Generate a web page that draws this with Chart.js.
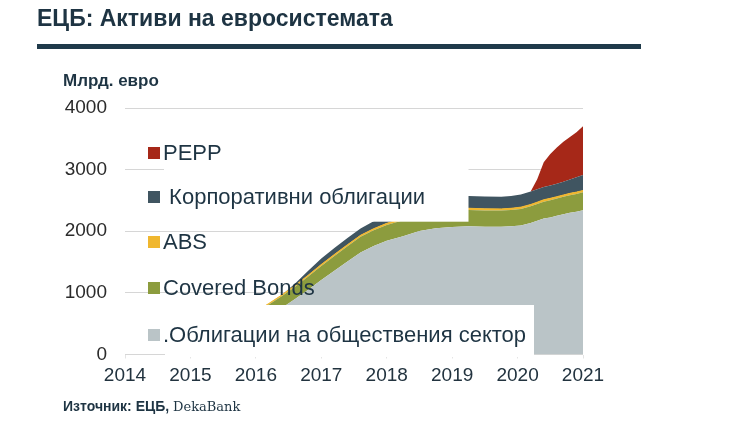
<!DOCTYPE html>
<html>
<head>
<meta charset="utf-8">
<script src="https://cdn.jsdelivr.net/npm/chart.js@4/dist/chart.umd.min.js"></script>
<style>
  body { margin: 0; background: #fff; }
  #wrap { position: relative; width: 740px; height: 436px; overflow: hidden; font-family: "Liberation Sans", Arial, sans-serif; }
  #chart { position: absolute; left: 0; top: 0; }
  .txt { position: absolute; color: #1e3443; white-space: nowrap; }
  #title { left: 37px; top: 5px; font-size: 23px; font-weight: bold; line-height: 27px; }
  #rule { position: absolute; left: 37px; top: 44px; width: 604px; height: 5px; background: #1f3a4a; }
  #unit { left: 63px; top: 70px; font-size: 17px; font-weight: bold; line-height: 21px; }
  #source { left: 63px; top: 397px; font-size: 14px; font-weight: bold; line-height: 18px; }
  #source span { font-family: "DejaVu Serif", serif; font-weight: normal; font-size: 13px; }
</style>
</head>
<body>
<div id="wrap">
  <canvas id="chart" width="740" height="436"></canvas>
  <div class="txt" id="title">ЕЦБ: Активи на евросистемата</div>
  <div id="rule"></div>
  <div class="txt" id="unit">Млрд. евро</div>
  <div class="txt" id="source">Източник: ЕЦБ, <span>DekaBank</span></div>
</div>
<script>
// decimal years on the x axis
var years = [2014.0, 2014.75, 2015.0, 2015.2, 2015.5, 2015.75, 2016.0, 2016.2, 2016.4, 2016.6,
             2016.8, 2017.0, 2017.2, 2017.4, 2017.6, 2017.8, 2018.0, 2018.25, 2018.5, 2018.75,
             2019.0, 2019.25, 2019.5, 2019.75, 2019.9, 2020.05, 2020.2, 2020.3, 2020.4, 2020.5,
             2020.6, 2020.7, 2020.8, 2020.9, 2021.0];

// holdings, bn EUR (stacked from bottom)
var publicSector = [0, 0, 0, 40, 220, 380, 520, 635, 760, 900,
                    1050, 1210, 1360, 1510, 1656, 1760, 1845, 1920, 2005, 2050,
                    2070, 2083, 2075, 2072, 2080, 2095, 2135, 2170, 2205, 2225,
                    2250, 2275, 2300, 2318, 2342];
var coveredBonds = [0, 0, 30, 70, 110, 140, 160, 175, 188, 200,
                    215, 228, 240, 248, 253, 256, 258, 259, 260, 260,
                    261, 262, 262, 264, 265, 268, 270, 272, 275, 278,
                    280, 283, 285, 287, 289];
var absSeries = [0, 0, 2, 5, 9, 14, 18, 19, 20, 21,
                 22, 23, 24, 24, 25, 25, 25, 26, 27, 27,
                 28, 28, 27, 27, 27, 28, 29, 30, 31, 31,
                 31, 30, 30, 30, 30];
var corporate = [0, 0, 0, 0, 0, 0, 0, 0, 0, 30,
                 70, 95, 105, 108, 110, 120, 130, 148, 160, 172,
                 185, 200, 198, 198, 200, 205, 212, 210, 208, 208,
                 210, 215, 225, 240, 252];
var pepp = [0, 0, 0, 0, 0, 0, 0, 0, 0, 0,
            0, 0, 0, 0, 0, 0, 0, 0, 0, 0,
            0, 0, 0, 0, 0, 0, 0, 160, 400, 510,
            590, 650, 690, 730, 790];

var seriesNames = ['Облигации на обществения сектор', 'Covered Bonds', 'ABS', 'Корпоративни облигации', 'PEPP'];
var seriesColors = ['#bac4c7', '#8c9c3e', '#f0b72f', '#405561', '#a62818'];
var xTicks = [2014, 2015, 2016, 2017, 2018, 2019, 2020, 2021];
var yTicks = [0, 1000, 2000, 3000, 4000];

function pts(arr) {
    return arr.map(function (v, i) { return {x: years[i], y: v}; });
}

var allSeries = [publicSector, coveredBonds, absSeries, corporate, pepp];
var datasets = allSeries.map(function (arr, i) {
    var ds = {
        label: seriesNames[i],
        data: pts(arr),
        backgroundColor: seriesColors[i],
        borderColor: 'rgba(0,0,0,0)',
        borderWidth: 0,
        pointRadius: 0,
        tension: 0,
        fill: i == 0 ? 'origin' : '-1'
    };
    if (i == 2) {
        // thin yellow edge on ABS, but not where it has no holdings yet
        ds.borderColor = seriesColors[i];
        ds.borderWidth = 1;
        ds.segment = {
            borderColor: function (c) {
                return (arr[c.p0DataIndex] == 0 && arr[c.p1DataIndex] == 0) ? 'rgba(0,0,0,0)' : undefined;
            }
        };
    }
    return ds;
});

// legend drawn inside the plot, each label on its own white patch
var legendLayout = [
    {y: 335, box: [165, 305, 534, 357], text: '.' + seriesNames[0]},
    {y: 288, box: null, text: seriesNames[1]},
    {y: 242, box: [164, 232, 215, 253], text: seriesNames[2]},
    {y: 197, box: [164, 166, 468.5, 221.7], text: ' ' + seriesNames[3]},
    {y: 153, box: [164, 140, 240, 165], text: seriesNames[4]}
];

var insideLegend = {
    id: 'insideLegend',
    afterDraw: function (chart) {
        var ctx = chart.ctx;
        ctx.save();
        legendLayout.forEach(function (it) {
            if (it.box) {
                ctx.fillStyle = '#ffffff';
                ctx.fillRect(it.box[0], it.box[1], it.box[2] - it.box[0], it.box[3] - it.box[1]);
            }
        });
        ctx.font = '22px "Liberation Sans", Arial, sans-serif';
        ctx.textBaseline = 'middle';
        legendLayout.forEach(function (it, i) {
            ctx.fillStyle = seriesColors[i];
            ctx.fillRect(148, it.y - 6, 12, 12);
            ctx.fillStyle = '#1e3443';
            ctx.fillText(it.text, 163, it.y + 1);
        });
        ctx.restore();
    }
};

var chart = new Chart(document.getElementById('chart').getContext('2d'), {
    type: 'line',
    data: {datasets: datasets},
    plugins: [insideLegend],
    options: {
        responsive: false,
        animation: false,
        layout: {padding: {top: 108, right: 157, bottom: 0, left: 0}},
        plugins: {legend: {display: false}, tooltip: {enabled: false}},
        scales: {
            x: {
                type: 'linear',
                min: xTicks[0],
                max: xTicks[xTicks.length - 1],
                afterFit: function (s) { s.height = 81.5; },
                afterBuildTicks: function (s) { s.ticks = xTicks.map(function (v) { return {value: v}; }); },
                ticks: {
                    callback: function (v) { return String(v); },
                    color: '#22333f',
                    font: {family: '"Liberation Sans", Arial, sans-serif', size: 19},
                    padding: 6,
                    maxRotation: 0
                },
                grid: {drawOnChartArea: false, drawTicks: true, tickLength: 4, color: '#e4e4e4'},
                border: {display: false}
            },
            y: {
                stacked: true,
                min: 0,
                max: 4000,
                afterFit: function (s) { s.width = 125; },
                afterBuildTicks: function (s) { s.ticks = yTicks.map(function (v) { return {value: v}; }); },
                ticks: {
                    callback: function (v) { return String(v); },
                    color: '#2b2b2b',
                    font: {family: '"Liberation Sans", Arial, sans-serif', size: 19},
                    padding: 18
                },
                grid: {drawTicks: false, color: '#d6d6d6'},
                border: {display: false}
            }
        }
    }
});
</script>
</body>
</html>
